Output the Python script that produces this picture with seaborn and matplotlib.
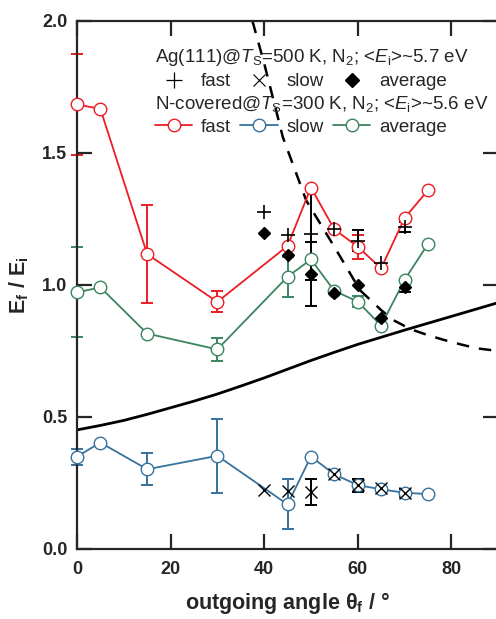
import matplotlib
matplotlib.use("Agg")
import matplotlib.pyplot as plt
import seaborn as sns
from matplotlib.lines import Line2D

# N-covered Ag(111), Ts = 300 K
n_angle = [0, 5, 15, 30, 45, 50, 55, 60, 65, 70, 75]
n_fast = [1.684, 1.667, 1.117, 0.936, 1.148, 1.369, 1.211, 1.145, 1.063, 1.253, 1.359]
n_fast_err = [0.19, 0, 0.185, 0.04, 0, 0, 0, 0.045, 0, 0, 0]
n_slow = [0.350, 0.403, 0.302, 0.353, 0.169, 0.350, 0.283, 0.242, 0.226, 0.213, 0.208]
n_slow_err = [0.03, 0, 0.06, 0.14, 0.095, 0, 0, 0.025, 0, 0, 0]
n_avg = [0.972, 0.991, 0.816, 0.756, 1.031, 1.097, 0.978, 0.937, 0.846, 1.019, 1.155]
n_avg_err = [0.17, 0, 0, 0.043, 0.075, 0, 0, 0.02, 0, 0, 0]

# clean Ag(111), Ts = 500 K
ag_angle = [40, 45, 50, 55, 60, 65, 70]
ag_fast = [1.278, 1.188, 1.195, 1.211, 1.167, 1.082, 1.22]
ag_fast_err = [0, 0, 0.177, 0, 0.04, 0, 0.02]
ag_slow = [0.223, 0.221, 0.217, 0.285, 0.242, 0.230, 0.213]
ag_slow_err = [0, 0, 0.05, 0, 0.025, 0, 0.015]
ag_avg = [1.196, 1.114, 1.042, 0.968, 1.0, 0.874, 0.993]
ag_avg_err = [0, 0, 0.12, 0, 0, 0, 0.02]

# model curves
solid_angle = [0, 5, 10, 15, 20, 25, 30, 35, 40, 45, 50, 55, 60, 65, 70, 75, 80, 85, 90]
solid_y = [0.451, 0.468, 0.487, 0.510, 0.535, 0.560, 0.587, 0.617, 0.648, 0.681, 0.714,
           0.745, 0.775, 0.802, 0.829, 0.855, 0.881, 0.907, 0.933]
dash_angle = [37.5, 40, 44, 49, 55.5, 60.5, 65, 67.6, 71.4, 75, 78.4, 82, 85.5, 90]
dash_y = [2.0, 1.84, 1.56, 1.32, 1.13, 0.98, 0.905, 0.867, 0.832, 0.81, 0.792, 0.775, 0.760, 0.75]

red = '#ec1c24'
blue = '#36729c'
green = '#3a8560'

sns.set_style('ticks')
plt.rcParams['font.family'] = ['Liberation Sans', 'DejaVu Sans']
plt.rcParams['mathtext.fontset'] = 'custom'
plt.rcParams['mathtext.rm'] = 'Liberation Sans'
plt.rcParams['mathtext.it'] = 'Liberation Sans:italic'
plt.rcParams['mathtext.bf'] = 'Liberation Sans:bold'

fig = plt.figure(figsize=(4.96, 6.19), dpi=100)
ax = fig.add_axes([0.1552, 0.1131, 0.849, 0.853])

sns.lineplot(x=solid_angle, y=solid_y, color='black', linewidth=2, ax=ax)
sns.lineplot(x=dash_angle, y=dash_y, color='black', linewidth=1.8, ax=ax)
ax.lines[-1].set_dashes([5, 4])

def err(x, y, e, c):
    xs = [a for a, b in zip(x, e) if b > 0]
    ys = [a for a, b in zip(y, e) if b > 0]
    es = [b for b in e if b > 0]
    ax.errorbar(xs, ys, yerr=es, fmt='none', ecolor=c, elinewidth=1.4,
                capsize=4.5, capthick=1.4, zorder=2, clip_on=False)

for ys, es, c in [(n_fast, n_fast_err, red), (n_avg, n_avg_err, green), (n_slow, n_slow_err, blue)]:
    err(n_angle, ys, es, c)
    sns.lineplot(x=n_angle, y=ys, color=c, linewidth=1.3, marker='o', markersize=9,
                 markerfacecolor='white', markeredgecolor=c, markeredgewidth=1.0,
                 ax=ax, zorder=3, clip_on=False)

for ys, es in [(ag_fast, ag_fast_err), (ag_avg, ag_avg_err), (ag_slow, ag_slow_err)]:
    err(ag_angle, ys, es, 'black')
ax.plot(ag_angle, ag_fast, linestyle='none', marker='+', markersize=10, color='black',
        markeredgewidth=1.2, zorder=4)
ax.plot(ag_angle, ag_slow, linestyle='none', marker='x', markersize=8, color='black',
        markeredgewidth=1.0, zorder=4)
ax.plot(ag_angle, ag_avg, linestyle='none', marker='D', markersize=6.5, color='black',
        zorder=4)

ax.set_xlim(0, 90)
ax.set_ylim(0, 2)
ax.set_xticks([0, 20, 40, 60, 80])
ax.set_yticks([0.0, 0.5, 1.0, 1.5, 2.0])
ax.set_yticklabels(['0.0', '0.5', '1.0', '1.5', '2.0'])
ax.tick_params(direction='in', length=11, width=1.6, top=True, right=True,
               labelsize=13, pad=7)
ax.tick_params(axis='x', pad=9)
for lab in ax.get_xticklabels() + ax.get_yticklabels():
    lab.set_fontweight('bold')
for sp in ax.spines.values():
    sp.set_linewidth(1.6)
    sp.set_visible(True)

ax.set_xlabel('outgoing angle θ$_\\mathbf{f}$ / °', fontsize=15.5, fontweight='bold', labelpad=8)
ax.set_ylabel(r'E$_\mathbf{f}$ / E$_\mathbf{i}$', fontsize=15.5, fontweight='bold', labelpad=8)

fs = 13.5
opts = dict(ncol=3, frameon=False, fontsize=fs, title_fontsize=fs, loc='upper left',
            alignment='left', borderpad=0, borderaxespad=0, labelspacing=0.25,
            handlelength=2.0, handletextpad=0.45, columnspacing=0.5)
h1 = [Line2D([], [], color='black', marker='+', linestyle='none', markersize=11, markeredgewidth=0.9),
      Line2D([], [], color='black', marker='x', linestyle='none', markersize=8.5, markeredgewidth=0.8),
      Line2D([], [], color='black', marker='D', linestyle='none', markersize=7)]
leg1 = ax.legend(h1, ['fast', 'slow', 'average'],
                 title=r'Ag(111)@$\mathit{T}_\mathrm{S}$=500 K, N$_2$; <$\mathit{E}_\mathrm{i}$>~5.7 eV',
                 bbox_to_anchor=(0.185, 0.950), **opts)
ax.add_artist(leg1)

h2 = [Line2D([], [], color=c, marker='o', markersize=9, markerfacecolor='white',
             markeredgecolor=c, linewidth=1.3) for c in [red, blue, green]]
ax.legend(h2, ['fast', 'slow', 'average'],
          title=r'N-covered@$\mathit{T}_\mathrm{S}$=300 K, N$_2$; <$\mathit{E}_\mathrm{i}$>~5.6 eV',
          bbox_to_anchor=(0.185, 0.862), **opts)

fig.savefig('out.png', dpi=100)
